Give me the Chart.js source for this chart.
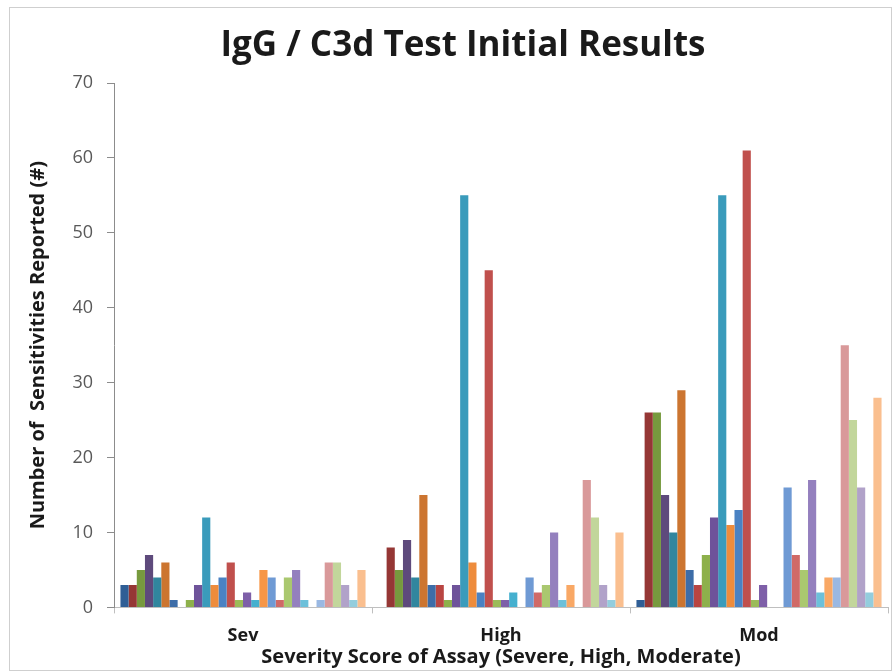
<!DOCTYPE html>
<html lang="en">
<head>
    <meta charset="UTF-8">
    <title>IgG / C3d Test Initial Results</title>
    <style>
        html, body { margin: 0; padding: 0; background: #ffffff; }
        #wrap { position: relative; width: 894px; height: 672px; }
        #frame {
            position: absolute;
            left: 9px; top: 7px;
            width: 881px; height: 662px;
            border: 1px solid #cfcfcf;
            pointer-events: none;
        }
    </style>
</head>
<body>
    <div id="wrap">
        <canvas id="chart" width="894" height="672"></canvas>
        <div id="frame"></div>
    </div>

    <script src="https://cdn.jsdelivr.net/npm/chart.js"></script>
    <script>
        // Categories on the x axis
        const categories = ['Sev', 'High', 'Mod'];

        // Values for each of the 30 series, one array per category (series order left to right)
        const sevValues  = [3, 3, 5, 7, 4, 6, 1, 0, 1, 3, 12, 3, 4, 6, 1, 2, 1, 5, 4, 1, 4, 5, 1, 0, 1, 6, 6, 3, 1, 5];
        const highValues = [0, 8, 5, 9, 4, 15, 3, 3, 1, 3, 55, 6, 2, 45, 1, 1, 2, 0, 4, 2, 3, 10, 1, 3, 0, 17, 12, 3, 1, 10];
        const modValues  = [1, 26, 26, 15, 10, 29, 5, 3, 7, 12, 55, 11, 13, 61, 1, 3, 0, 0, 16, 7, 5, 17, 2, 4, 4, 35, 25, 16, 2, 28];

        // Office-style palette, five shade cycles of six colours
        const seriesColors = [
            '#2f5e95', '#953735', '#779a3e', '#5e4a7c', '#31869e', '#cc7530',
            '#3d6da8', '#b94542', '#8db04b', '#6e539a', '#3a9bbb', '#ee8c3c',
            '#4a82c3', '#c0504d', '#9bbb59', '#7e5fa8', '#45b0cf', '#f79646',
            '#6f9ad4', '#d06a67', '#aac86f', '#9480be', '#6cc0da', '#f9a865',
            '#9ab8e2', '#d9999a', '#c2d69b', '#b1a2c9', '#93cddd', '#fabf8f'
        ];

        const seriesValues = [sevValues, highValues, modValues];
        const datasets = seriesColors.map((color, i) => ({
            label: 'Series ' + (i + 1),
            data: seriesValues.map(arr => arr[i]),
            backgroundColor: color,
            borderWidth: 0,
            categoryPercentage: 0.95,
            barPercentage: 1.0
        }));

        const FONT = '"Open Sans", Lato, sans-serif';

        new Chart(document.getElementById('chart').getContext('2d'), {
            type: 'bar',
            data: { labels: categories, datasets: datasets },
            options: {
                responsive: false,
                animation: false,
                devicePixelRatio: 1,
                layout: { padding: { left: 38, right: 6, top: 25, bottom: 3 } },
                plugins: {
                    legend: { display: false },
                    tooltip: { enabled: false },
                    title: {
                        display: true,
                        text: 'IgG / C3d Test Initial Results',
                        color: '#1a1a1a',
                        font: { family: FONT, size: 35, weight: 'bold' },
                        padding: { top: 0, bottom: 16 }
                    }
                },
                scales: {
                    x: {
                        grid: {
                            display: true,
                            drawOnChartArea: false,
                            drawTicks: true,
                            tickLength: 6,
                            color: '#bfbfbf'
                        },
                        border: { display: true, color: '#bfbfbf', width: 1 },
                        ticks: {
                            color: '#1a1a1a',
                            font: { family: FONT, size: 18, weight: 'bold' },
                            padding: 12
                        },
                        title: {
                            display: true,
                            text: 'Severity Score of Assay (Severe, High, Moderate)',
                            color: '#1a1a1a',
                            font: { family: FONT, size: 20, weight: 'bold' },
                            padding: { top: -14, bottom: 0 }
                        }
                    },
                    y: {
                        min: 0,
                        max: 70,
                        ticks: {
                            stepSize: 10,
                            color: '#595959',
                            font: { family: FONT, size: 18 },
                            padding: 14
                        },
                        grid: {
                            display: true,
                            drawOnChartArea: false,
                            drawTicks: true,
                            tickLength: 7,
                            color: '#8c8c8c'
                        },
                        border: { display: true, color: '#8c8c8c', width: 1 },
                        title: {
                            display: true,
                            text: 'Number of  Sensitivities Reported (#)',
                            color: '#1a1a1a',
                            font: { family: FONT, size: 20, weight: 'bold' },
                            padding: { top: -12, bottom: 0 }
                        },
                        afterFit: function(scale) {
                            scale.width = 76;
                        }
                    }
                }
            }
        });
    </script>
</body>
</html>
